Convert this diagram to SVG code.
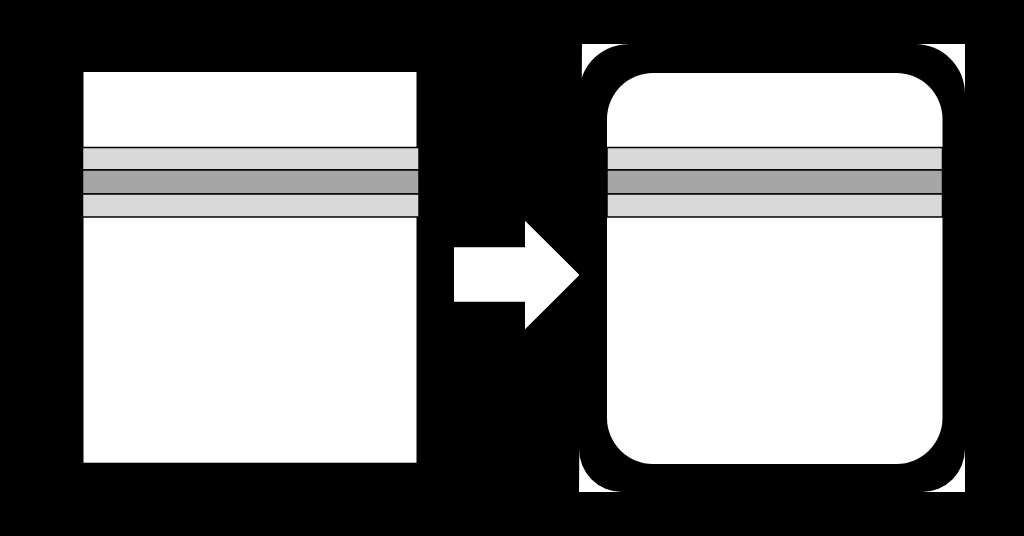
<svg xmlns="http://www.w3.org/2000/svg" width="1024" height="536" viewBox="0 0 1024 536">
<style>
.w{fill:#fff}
.lb{fill:#d9d9d9;stroke:#000;stroke-width:1.5}
.db{fill:#a6a6a6;stroke:#000;stroke-width:1.5}
</style>
<rect x="0" y="0" width="1024" height="536" fill="#000"/>
<g id="before">
<rect class="w" x="83.5" y="72" width="333" height="390.7"/>
<rect class="lb" x="82.5" y="147.5" width="336.5" height="22.5"/>
<rect class="db" x="82.5" y="170" width="336.5" height="24"/>
<rect class="lb" x="82.5" y="194" width="336.5" height="23"/>
</g>
<g id="connectors">
<polygon class="w" points="454,247.3 525,247.3 525,220.7 579.5,275 525,329.3 525,301.7 454,301.7"/>
</g>
<g id="after">
<path class="w" d="M582,44 H965 V492 H579 Z"/>
<path fill="#000" d="M632,44 H915 A50,50 0 0 1 965,94 V449 A43,43 0 0 1 922,492 H622 A43,43 0 0 1 579,449 V94 A50,50 0 0 1 632,44 Z"/>
<rect class="w" x="607" y="73" width="335.5" height="391" rx="46" ry="46"/>
<rect class="lb" x="607" y="147.5" width="335.5" height="22.5"/>
<rect class="db" x="607" y="170" width="335.5" height="24"/>
<rect class="lb" x="607" y="194" width="335.5" height="23"/>
</g>
</svg>
